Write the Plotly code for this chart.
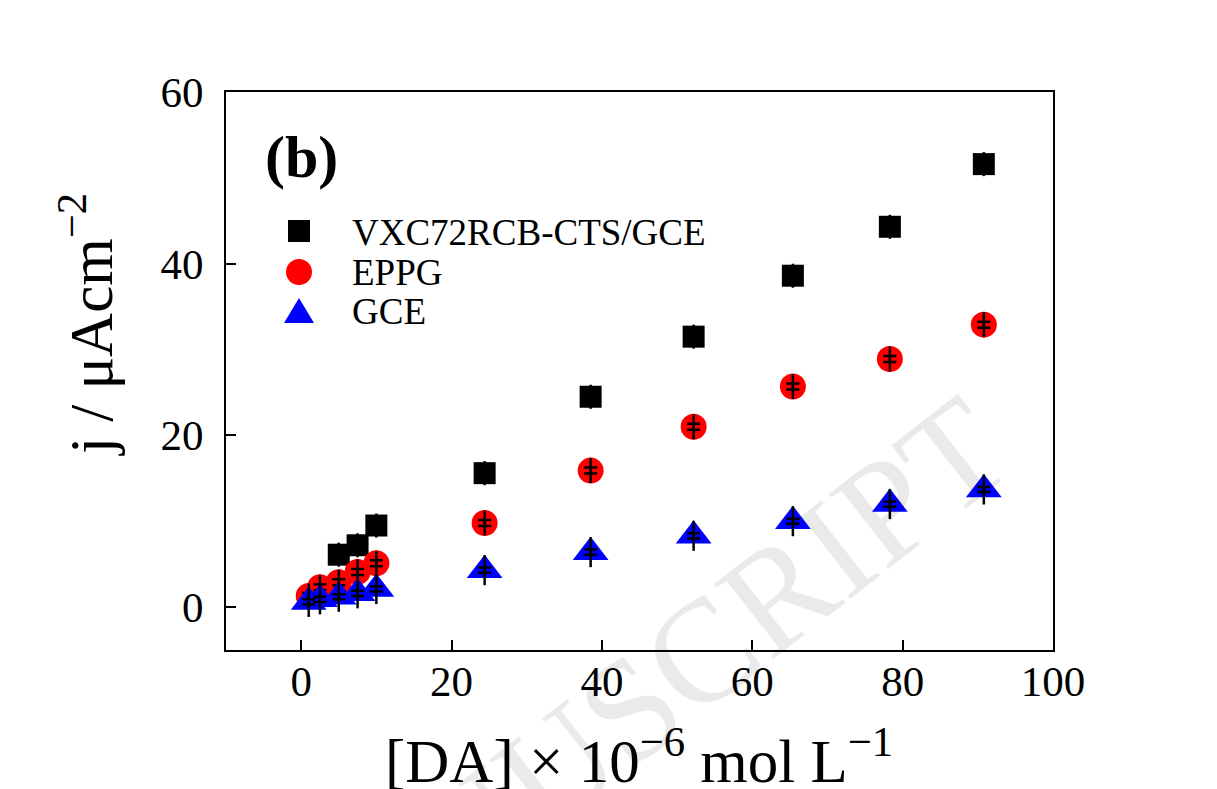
import plotly.graph_objects as go

# ---- data ----
conc = [1, 2.5, 5, 7.5, 10, 24.4, 38.5, 52.2, 65.4, 78.3, 90.8]
j_vxc = [None, None, 6.1, 7.2, 9.5, 15.6, 24.5, 31.5, 38.6, 44.3, 51.6]
j_eppg = [1.3, 2.3, 2.9, 4.1, 5.1, 9.8, 15.9, 21.0, 25.7, 28.9, 32.9]
j_gce = [0.6, 0.9, 1.2, 1.6, 2.1, 4.3, 6.4, 8.3, 10.0, 12.0, 13.7]

# error bars: short capped part and longer whisker
cap_eppg = [0.35] * 11
cap_gce = [0.3] * 11
bar_vxc = [1.4] * 11
bar_eppg = [1.45] * 11
bar_gce = [1.75] * 11

names = ["VXC72RCB-CTS/GCE", "EPPG", "GCE"]
x_ticks = [0, 20, 40, 60, 80, 100]
y_ticks = [0, 20, 40, 60]

FONT = "Liberation Serif"

fig = go.Figure()

def add_series(y, color, symbol, size, name, cap, bar):
    fig.add_trace(go.Scatter(
        x=conc, y=y, mode="markers", name=name, showlegend=False,
        marker=dict(symbol=symbol, size=size, color=color, line=dict(width=0)),
    ))
    fig.add_trace(go.Scatter(
        x=conc, y=y, mode="markers", showlegend=False, hoverinfo="skip",
        marker=dict(size=1, color="rgba(0,0,0,0)"),
        error_y=dict(type="data", array=bar, visible=True, color="black",
                     thickness=2.5, width=0),
    ))
    if cap is not None:
        fig.add_trace(go.Scatter(
            x=conc, y=y, mode="markers", showlegend=False, hoverinfo="skip",
            marker=dict(size=1, color="rgba(0,0,0,0)"),
            error_y=dict(type="data", array=cap, visible=True, color="black",
                         thickness=2.5, width=6.5),
        ))

add_series(j_vxc, "black", "square", 22, names[0], None, bar_vxc)
add_series(j_eppg, "red", "circle", 26, names[1], cap_eppg, bar_eppg)
add_series(j_gce, "blue", "triangle-up", 31, names[2], cap_gce, bar_gce)

# page pixel geometry of the reference (the figure sits 8px in from the page corner)
OFF = 8
PL, PR, PT, PB = 226, 1053, 92, 650
W, H = 1217 - OFF, 789 - OFF

def px(xp):
    return (xp - PL) / (PR - PL)

def py(yp):
    return (PB - yp) / (PB - PT)

axis_common = dict(
    ticks="inside", ticklen=10, tickwidth=2, tickcolor="black",
    showline=True, linewidth=2, linecolor="black", mirror=True,
    showgrid=False, zeroline=False,
    tickfont=dict(family=FONT, size=43, color="black"),
)
fig.update_xaxes(range=[-10, 100], tickvals=x_ticks, ticklabelstandoff=-8, **axis_common)
fig.update_yaxes(range=[-5, 60], tickvals=y_ticks, ticklabelstandoff=12, **axis_common)

annotations = []
# watermark (translucent black so it only tints what lies beneath)
annotations.append(dict(
    text="ACCEPTED MANUSCRIPT", xref="paper", yref="paper",
    x=px(306), y=py(962), xanchor="center", yanchor="middle",
    textangle=-38, showarrow=False, opacity=0.08,
    font=dict(family=FONT, size=146, color="black"),
))
# panel label
annotations.append(dict(
    text="<b>(b)</b>", xref="paper", yref="paper", x=px(263), y=py(157),
    xanchor="left", yanchor="middle", showarrow=False,
    font=dict(family=FONT, size=60, color="black"),
))
# axis titles
annotations.append(dict(
    text="[DA] × 10<sup>−6</sup> mol L<sup>−1</sup>", xref="paper", yref="paper",
    x=px(639), y=py(756), xanchor="center", yanchor="middle", showarrow=False,
    font=dict(family=FONT, size=61, color="black"),
))
annotations.append(dict(
    text="j / μAcm<sup>−2</sup>", xref="paper", yref="paper",
    x=px(86), y=py(325), xanchor="center", yanchor="middle", textangle=-90,
    showarrow=False, font=dict(family=FONT, size=61, color="black"),
))
# legend text
for name, yc in zip(names, [232, 272, 311]):
    annotations.append(dict(
        text=name, xref="paper", yref="paper", x=px(350), y=py(yc),
        xanchor="left", yanchor="middle", showarrow=False,
        font=dict(family=FONT, size=37, color="black"),
    ))

shapes = [
    dict(type="rect", xref="paper", yref="paper", xsizemode="pixel", ysizemode="pixel",
         xanchor=px(299), yanchor=py(231), x0=-11, x1=11, y0=-11, y1=11,
         fillcolor="black", line=dict(width=0)),
    dict(type="circle", xref="paper", yref="paper", xsizemode="pixel", ysizemode="pixel",
         xanchor=px(299), yanchor=py(272), x0=-13, x1=13, y0=-13, y1=13,
         fillcolor="red", line=dict(width=0)),
    dict(type="path", xref="paper", yref="paper", xsizemode="pixel", ysizemode="pixel",
         xanchor=px(299), yanchor=py(311), path="M -15 -12 L 15 -12 L 0 13 Z",
         fillcolor="blue", line=dict(width=0)),
]

fig.update_layout(
    width=W, height=H,
    margin=dict(l=PL - OFF, r=W - (PR - OFF), t=PT - OFF, b=H - (PB - OFF)),
    paper_bgcolor="white", plot_bgcolor="white",
    showlegend=False, annotations=annotations, shapes=shapes,
    font=dict(family=FONT, color="black"),
)

fig.write_html("out.html")
